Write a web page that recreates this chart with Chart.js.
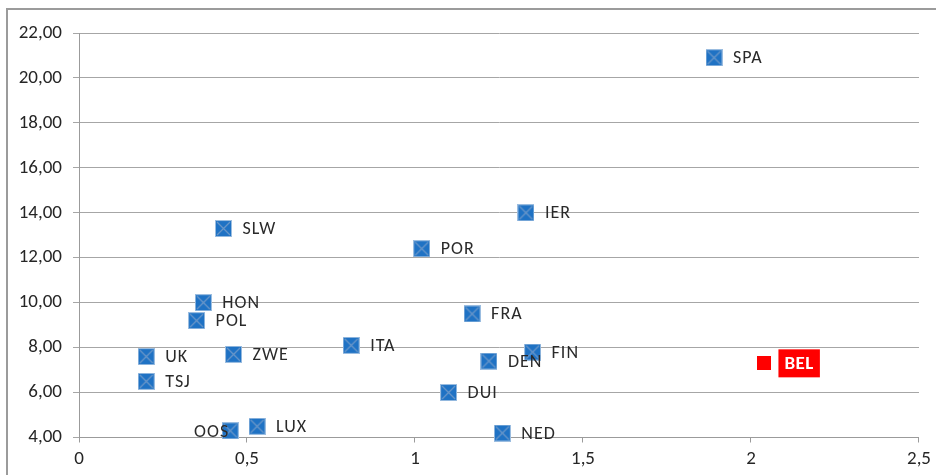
<!DOCTYPE html>
<html>
<head>
<meta charset="utf-8">
<script src="https://cdn.jsdelivr.net/npm/chart.js@4/dist/chart.umd.min.js"></script>
<style>
html,body{margin:0;padding:0;background:#fff;}
#wrap{position:relative;width:936px;height:475px;}
</style>
</head>
<body>
<div id="wrap"><canvas id="c" width="936" height="475"></canvas></div>
<script>
// ---- data ----
const countries = ['SPA','IER','SLW','POR','HON','POL','FRA','ITA','UK','ZWE','TSJ','FIN','DEN','DUI','NED','OOS','LUX'];
const xValues   = [1.89, 1.33, 0.43, 1.02, 0.37, 0.35, 1.17, 0.81, 0.20, 0.46, 0.20, 1.35, 1.22, 1.10, 1.26, 0.45, 0.53];
const yValues   = [20.9, 14.0, 13.3, 12.4, 10.0, 9.2, 9.5, 8.1, 7.6, 7.7, 6.5, 7.8, 7.4, 6.0, 4.2, 4.3, 4.5];
const highlightLabels = ['BEL'];
const highlightX = [2.04];
const highlightY = [7.3];
const leftLabels = ['OOS'];
const yTickValues = [4, 6, 8, 10, 12, 14, 16, 18, 20, 22];
const xTickValues = [0, 0.5, 1, 1.5, 2, 2.5];

const FONT = 'Carlito, "Open Sans", Lato, sans-serif';
Chart.defaults.font.family = FONT;

// marker: blue square with X
function makeMarker() {
  const s = 17, cv = document.createElement('canvas');
  cv.width = s; cv.height = s;
  const g = cv.getContext('2d');
  g.fillStyle = '#9bbde0';
  g.fillRect(0, 0, s, s);
  g.fillStyle = '#1f72c4';
  g.fillRect(1, 1, s - 2, s - 2);
  g.strokeStyle = '#6a97c9';
  g.lineWidth = 1.3;
  g.beginPath();
  g.moveTo(2, 2); g.lineTo(s - 2, s - 2);
  g.moveTo(s - 2, 2); g.lineTo(2, s - 2);
  g.stroke();
  return cv;
}
function makeRed() {
  const s = 14, cv = document.createElement('canvas');
  cv.width = s; cv.height = s;
  const g = cv.getContext('2d');
  g.fillStyle = '#ff0000';
  g.fillRect(0, 0, s, s);
  return cv;
}

const mainPoints = countries.map((c, i) => ({x: xValues[i], y: yValues[i]}));
const hiPoints = highlightLabels.map((c, i) => ({x: highlightX[i], y: highlightY[i]}));

const frame = {
  id: 'frame',
  beforeDraw(chart) {
    const ctx = chart.ctx;
    ctx.save();
    ctx.strokeStyle = '#9b9b9b';
    ctx.lineWidth = 2;
    ctx.beginPath();
    ctx.moveTo(7, 480);
    ctx.lineTo(7, 9);
    ctx.lineTo(940, 9);
    ctx.stroke();
    ctx.restore();
  }
};

const labelsPlugin = {
  id: 'pointLabels',
  afterDatasetsDraw(chart) {
    const ctx = chart.ctx;
    ctx.save();
    // main labels
    const meta0 = chart.getDatasetMeta(0);
    ctx.font = '18px ' + FONT;
    ctx.letterSpacing = '1px';
    ctx.fillStyle = '#2a2a2a';
    ctx.textBaseline = 'middle';
    meta0.data.forEach((el, i) => {
      const name = countries[i];
      if (leftLabels.includes(name)) {
        ctx.textAlign = 'right';
        ctx.fillText(name, el.x - 1, el.y + 2);
      } else {
        ctx.textAlign = 'left';
        ctx.fillText(name, el.x + 19, el.y + 1);
      }
    });
    // highlight labels
    const meta1 = chart.getDatasetMeta(1);
    ctx.font = 'bold 19px ' + FONT;
    ctx.letterSpacing = '0.5px';
    meta1.data.forEach((el, i) => {
      const name = highlightLabels[i];
      const w = ctx.measureText(name).width + 12;
      const h = 28;
      const bx = el.x + 14, by = el.y - h / 2;
      ctx.fillStyle = '#ff0000';
      ctx.fillRect(bx, by, w, h);
      ctx.fillStyle = '#ffffff';
      ctx.textAlign = 'center';
      ctx.fillText(name, bx + w / 2, el.y + 1);
    });
    ctx.restore();
  }
};

new Chart(document.getElementById('c'), {
  type: 'scatter',
  data: {
    datasets: [
      {
        data: mainPoints,
        pointStyle: makeMarker(),
        clip: false
      },
      {
        data: hiPoints,
        pointStyle: makeRed(),
        clip: false
      }
    ]
  },
  options: {
    responsive: false,
    animation: false,
    events: [],
    layout: {padding: {left: 10, top: 33, right: 16, bottom: 0}},
    plugins: {
      legend: {display: false},
      tooltip: {enabled: false}
    },
    scales: {
      x: {
        type: 'linear',
        min: 0, max: 2.5,
        afterBuildTicks(s) { s.ticks = xTickValues.map(v => ({value: v})); },
        afterFit(s) { s.height = 475 - 437.5; },
        grid: {drawOnChartArea: false, drawTicks: true, tickLength: 5, color: '#9b9b9b'},
        border: {color: '#9b9b9b', width: 1},
        ticks: {
          color: '#262626',
          font: {size: 19},
          padding: 5,
          callback: v => String(v).replace('.', ',')
        }
      },
      y: {
        type: 'linear',
        min: 4, max: 22,
        afterBuildTicks(s) { s.ticks = yTickValues.map(v => ({value: v})); },
        afterFit(s) { s.width = 79 - 10; },
        grid: {color: '#a6a6a6', lineWidth: 1, tickLength: 6},
        border: {color: '#9b9b9b', width: 1},
        ticks: {
          color: '#262626',
          font: {size: 19},
          padding: 11,
          callback: v => v.toFixed(2).replace('.', ',')
        }
      }
    }
  },
  plugins: [frame, labelsPlugin]
});
</script>
</body>
</html>
